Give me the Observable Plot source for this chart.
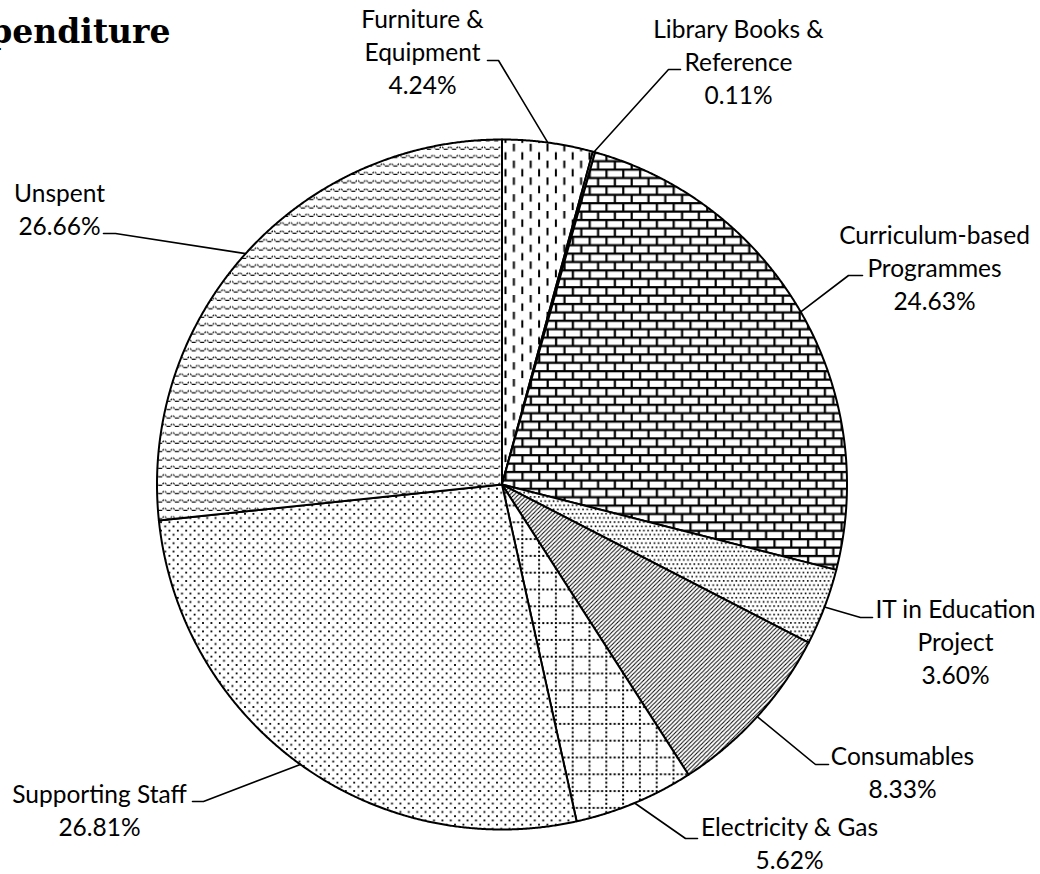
<!DOCTYPE html>
<html>
<head>
<meta charset="utf-8">
<script src="https://cdn.jsdelivr.net/npm/d3@7"></script>
<script src="https://cdn.jsdelivr.net/npm/@observablehq/plot@0.6"></script>
<style>
  html, body { margin: 0; padding: 0; background: #fff; overflow: hidden; }
  #chart svg { display: block; }
</style>
</head>
<body>
<div id="chart"></div>
<script>
// ---------- data ----------
const title = "Expenditure";
const categories = [
  "Furniture & Equipment",
  "Library Books & Reference",
  "Curriculum-based Programmes",
  "IT in Education Project",
  "Consumables",
  "Electricity & Gas",
  "Supporting Staff",
  "Unspent"
];
const labelNames = [
  ["Furniture &", "Equipment"],
  ["Library Books &", "Reference"],
  ["Curriculum-based", "Programmes"],
  ["IT in Education", "Project"],
  ["Consumables"],
  ["Electricity & Gas"],
  ["Supporting Staff"],
  ["Unspent"]
];
const shares = [4.24, 0.11, 24.63, 3.60, 8.33, 5.62, 26.81, 26.66];

// ---------- styling / layout (kept apart from data) ----------
const W = 1040, H = 874;
const pie = {cx: 501.5, cy: 484, r: 345};
const patterns = [
  "url(#p-vdash)", "url(#p-blank)", "url(#p-brick)", "url(#p-dots-dense)",
  "url(#p-diag)", "url(#p-grid)", "url(#p-dots)", "url(#p-wave)"
];
// label centre x, last-line baseline y, leader bend point, leader stub end
const labelLayout = [
  {x: 422, y: 93,  bend: [498, 60],  end: [487, 60]},
  {x: 738, y: 103, bend: [668, 69],  end: [680, 69]},
  {x: 934, y: 309, bend: [848, 275], end: [862, 275]},
  {x: 955, y: 683, bend: [860, 617], end: [872, 617]},
  {x: 902, y: 797, bend: [815, 764], end: [828, 764]},
  {x: 789, y: 868, bend: [685, 838], end: [697, 838]},
  {x: 99,  y: 835, bend: [203, 801], end: [192, 801]},
  {x: 59,  y: 234, bend: [115, 233], end: [103, 233]}
];
const fontSize = 24.5;
const lineSpacing = 33;

// ---------- geometry from the data ----------
const arcs = d3.pie().sort(null).value(d => d)(shares);
const pt = (a, r) => ({x: pie.cx + r * Math.sin(a), y: pie.cy - r * Math.cos(a)});

const slicePts = [];
arcs.forEach((a, i) => {
  const name = categories[i];
  const n = Math.max(2, Math.ceil((a.endAngle - a.startAngle) / 0.004));
  slicePts.push({name, pattern: patterns[i], x: pie.cx, y: pie.cy});
  for (let k = 0; k <= n; ++k) {
    const ang = a.startAngle + (a.endAngle - a.startAngle) * k / n;
    slicePts.push({name, pattern: patterns[i], ...pt(ang, pie.r)});
  }
  slicePts.push({name, pattern: patterns[i], x: pie.cx, y: pie.cy});
});

const leaderPts = [];
arcs.forEach((a, i) => {
  const mid = (a.startAngle + a.endAngle) / 2;
  const L = labelLayout[i];
  leaderPts.push({name: categories[i], ...pt(mid, pie.r)});
  leaderPts.push({name: categories[i], x: L.bend[0], y: L.bend[1]});
  leaderPts.push({name: categories[i], x: L.end[0], y: L.end[1]});
});

const labels = arcs.map((a, i) => ({
  x: labelLayout[i].x,
  y: labelLayout[i].y,
  text: [...labelNames[i], shares[i].toFixed(2) + "%"].join("\n")
}));

// ---------- plot ----------
const svg = Plot.plot({
  width: W,
  height: H,
  margin: 0,
  x: {domain: [0, W], range: [0, W], axis: null},
  y: {domain: [0, H], range: [0, H], axis: null},
  color: {type: "identity"},
  style: {background: "white", overflow: "hidden"},
  marks: [
    Plot.line(slicePts, {
      x: "x", y: "y", z: "name", fill: "pattern",
      stroke: "black", strokeWidth: 2, strokeLinejoin: "round", curve: "linear"
    }),
    Plot.line(leaderPts, {
      x: "x", y: "y", z: "name",
      stroke: "black", strokeWidth: 1.6, strokeLinejoin: "miter", curve: "linear"
    }),
    Plot.text(labels, {
      x: "x", y: "y", text: "text",
      lineAnchor: "bottom", lineHeight: lineSpacing / fontSize,
      textAnchor: "middle", fontSize, fontFamily: "Lato", fill: "black"
    }),
    Plot.text([title], {
      x: 170, y: 42, text: d => d,
      textAnchor: "end", lineAnchor: "bottom",
      fontSize: 33, fontWeight: "bold", fontFamily: "DejaVu Serif", fill: "black"
    })
  ]
});

// ---------- fill patterns ----------
const defs = `
<pattern id="p-blank" patternUnits="userSpaceOnUse" width="8" height="8">
  <rect width="8" height="8" fill="white"/>
</pattern>
<pattern id="p-vdash" patternUnits="userSpaceOnUse" width="16.8" height="16.8">
  <rect width="16.8" height="16.8" fill="white"/>
  <rect x="0" y="0.5" width="2" height="7.5" fill="black"/>
  <rect x="8.4" y="8.9" width="2" height="7.5" fill="black"/>
</pattern>
<pattern id="p-brick" patternUnits="userSpaceOnUse" width="16.8" height="16.8">
  <rect width="16.8" height="16.8" fill="white"/>
  <path d="M0,1H16.8M0,9.4H16.8M1.2,0V9.4M9.6,9.4V16.8" stroke="black" stroke-width="2.2" fill="none"/>
</pattern>
<pattern id="p-dots-dense" patternUnits="userSpaceOnUse" width="8.4" height="8.4">
  <rect width="8.4" height="8.4" fill="white"/>
  <rect x="0" y="0" width="1.6" height="1.6" fill="black"/>
  <rect x="4.2" y="0" width="1.6" height="1.6" fill="black"/>
  <rect x="2.1" y="4.2" width="1.6" height="1.6" fill="black"/>
  <rect x="6.3" y="4.2" width="1.6" height="1.6" fill="black"/>
</pattern>
<pattern id="p-dots" patternUnits="userSpaceOnUse" width="8.4" height="8.4">
  <rect width="8.4" height="8.4" fill="white"/>
  <rect x="0" y="0" width="1.8" height="1.8" fill="black"/>
  <rect x="4.2" y="4.2" width="1.8" height="1.8" fill="black"/>
</pattern>
<pattern id="p-diag" patternUnits="userSpaceOnUse" width="4.2" height="4.2">
  <rect width="4.2" height="4.2" fill="white"/>
  <path d="M-1,1L1,-1M0,4.2L4.2,0M3.2,5.2L5.2,3.2" stroke="black" stroke-width="1"/>
</pattern>
<pattern id="p-grid" patternUnits="userSpaceOnUse" width="16.8" height="16.8">
  <rect width="16.8" height="16.8" fill="white"/>
  <path d="M0,1H16.8" stroke="black" stroke-width="2" stroke-dasharray="2 2.2"/>
  <path d="M1,0V16.8" stroke="black" stroke-width="2" stroke-dasharray="2 2.2"/>
</pattern>
<pattern id="p-wave" patternUnits="userSpaceOnUse" width="8.4" height="8.4">
  <rect width="8.4" height="8.4" fill="white"/>
  <path d="M0,6H1.8L3.2,3.8H5.2L6.6,6H8.4" stroke="black" stroke-width="1.1" stroke-dasharray="2 1" fill="none"/>
</pattern>`;
const defsEl = document.createElementNS("http://www.w3.org/2000/svg", "defs");
defsEl.innerHTML = defs;
svg.insertBefore(defsEl, svg.firstChild);

document.getElementById("chart").appendChild(svg);
</script>
</body>
</html>
